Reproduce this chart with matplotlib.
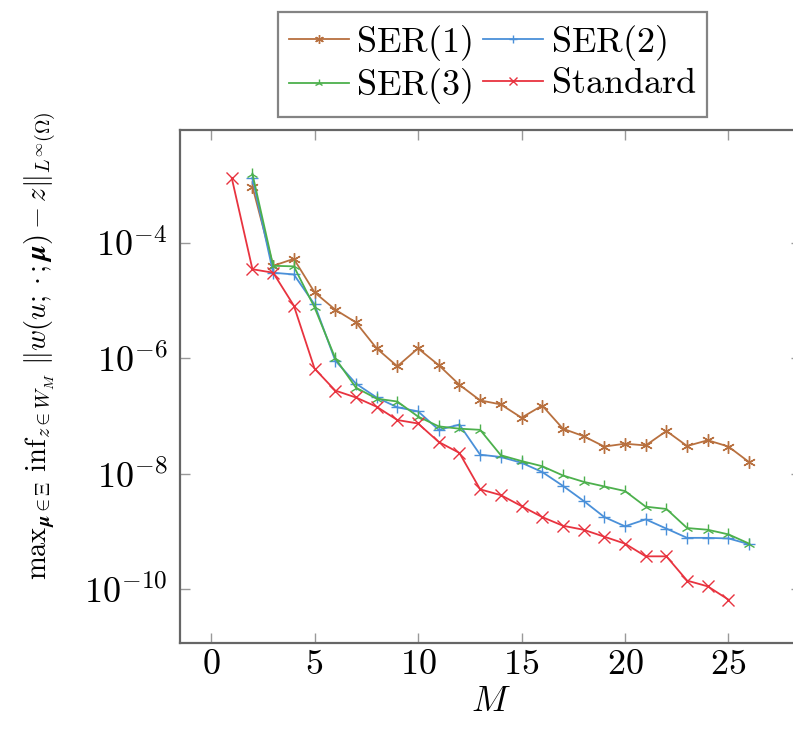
# Convergence of the best approximation error for the different greedy variants
import numpy as np
import matplotlib.pyplot as plt
from matplotlib.ticker import FixedLocator, FuncFormatter, NullLocator

# Computer Modern look for all the math text
plt.rcParams['mathtext.fontset'] = 'cm'
plt.rcParams['font.family'] = 'serif'

# Number of basis functions M
M_ser = np.arange(2, 27)
M_std = np.arange(1, 26)

# log10 of the error for each method
log_ser1 = [-3.03, -4.40, -4.28, -4.86, -5.16, -5.38, -5.83, -6.14, -5.83, -6.12,
            -6.46, -6.73, -6.80, -7.03, -6.82, -7.22, -7.35, -7.53, -7.48, -7.51,
            -7.26, -7.52, -7.42, -7.53, -7.80]
log_ser2 = [-2.88, -4.52, -4.55, -5.07, -6.04, -6.44, -6.68, -6.85, -6.92, -7.24,
            -7.15, -7.67, -7.71, -7.81, -7.97, -8.21, -8.47, -8.75, -8.91, -8.79,
            -8.95, -9.11, -9.11, -9.12, -9.22]
log_ser3 = [-2.81, -4.40, -4.41, -5.12, -6.00, -6.51, -6.70, -6.75, -7.01, -7.18,
            -7.22, -7.24, -7.68, -7.78, -7.87, -8.03, -8.14, -8.22, -8.30, -8.57,
            -8.61, -8.94, -8.97, -9.05, -9.21]
log_std = [-2.88, -4.46, -4.52, -5.09, -6.18, -6.56, -6.68, -6.84, -7.07, -7.13,
           -7.45, -7.64, -8.27, -8.37, -8.56, -8.75, -8.90, -8.97, -9.09, -9.21,
           -9.43, -9.43, -9.85, -9.95, -10.18]

labels = [r'$\mathrm{SER(1)}$', r'$\mathrm{SER(2)}$', r'$\mathrm{SER(3)}$', r'$\mathrm{Standard}$']
colors = ['#b8703f', '#4a90d9', '#4cb04c', '#e8333f']
markers = [(6, 2, 0), '+', '2', 'x']

fig = plt.figure(figsize=(7.93, 7.33), dpi=100)
ax = fig.add_axes([0.227, 0.1228, 0.783, 0.6998])

series = [(M_ser, log_ser1), (M_ser, log_ser2), (M_ser, log_ser3), (M_std, log_std)]
lines = []
for (M, logerr), lab, col, mk in zip(series, labels, colors, markers):
    ln, = ax.plot(M, 10.0 ** np.array(logerr), color=col, marker=mk, markersize=9,
                  markeredgewidth=1.0, linewidth=1.3, label=lab)
    lines.append(ln)

ax.set_yscale('log')
ax.set_xlim(-1.5, 28.5)
ax.set_ylim(10 ** -10.93, 10 ** -2.05)

# ticks: every 5 on x, every second decade on y
ax.xaxis.set_major_locator(FixedLocator([0, 5, 10, 15, 20, 25]))
ax.xaxis.set_major_formatter(FuncFormatter(lambda v, p: r'$%d$' % v))
ax.yaxis.set_major_locator(FixedLocator([1e-10, 1e-8, 1e-6, 1e-4]))
ax.yaxis.set_major_formatter(FuncFormatter(lambda v, p: r'$10^{%d}$' % round(np.log10(v))))
ax.yaxis.set_minor_locator(NullLocator())
ax.tick_params(which='major', direction='in', length=7, width=1.0, color='#999999',
               top=True, right=True, labelsize=26)
ax.tick_params(axis='x', pad=3)
ax.tick_params(axis='y', pad=9)

for sp in ax.spines.values():
    sp.set_color('#666666')
    sp.set_linewidth(1.6)

ax.set_xlabel(r'$M$', fontsize=26, labelpad=2)
ax.set_ylabel(r'$\mathrm{max}_{\boldsymbol{\mu}\in\Xi}\ \mathrm{inf}_{z\in W_M}\ '
              r'\|w(u;\cdot;\boldsymbol{\mu})-z\|_{L^\infty(\Omega)}$', fontsize=20.5)
ax.yaxis.set_label_coords(-0.195, 0.58)

# legend filled column by column: SER(1)/SER(3) left, SER(2)/Standard right
order = [0, 2, 1, 3]
leg = fig.legend([lines[i] for i in order], [labels[i] for i in order],
                 loc='upper center', bbox_to_anchor=(0.621, 0.9836), borderaxespad=0,
                 ncol=2, fontsize=26, frameon=True, fancybox=False, handlelength=1.67,
                 handletextpad=0.2, columnspacing=0.3, labelspacing=0.1,
                 borderpad=0.3, markerscale=0.7)
leg.get_frame().set_edgecolor('#666666')
leg.get_frame().set_linewidth(1.6)

fig.savefig('out.png', dpi=100)
